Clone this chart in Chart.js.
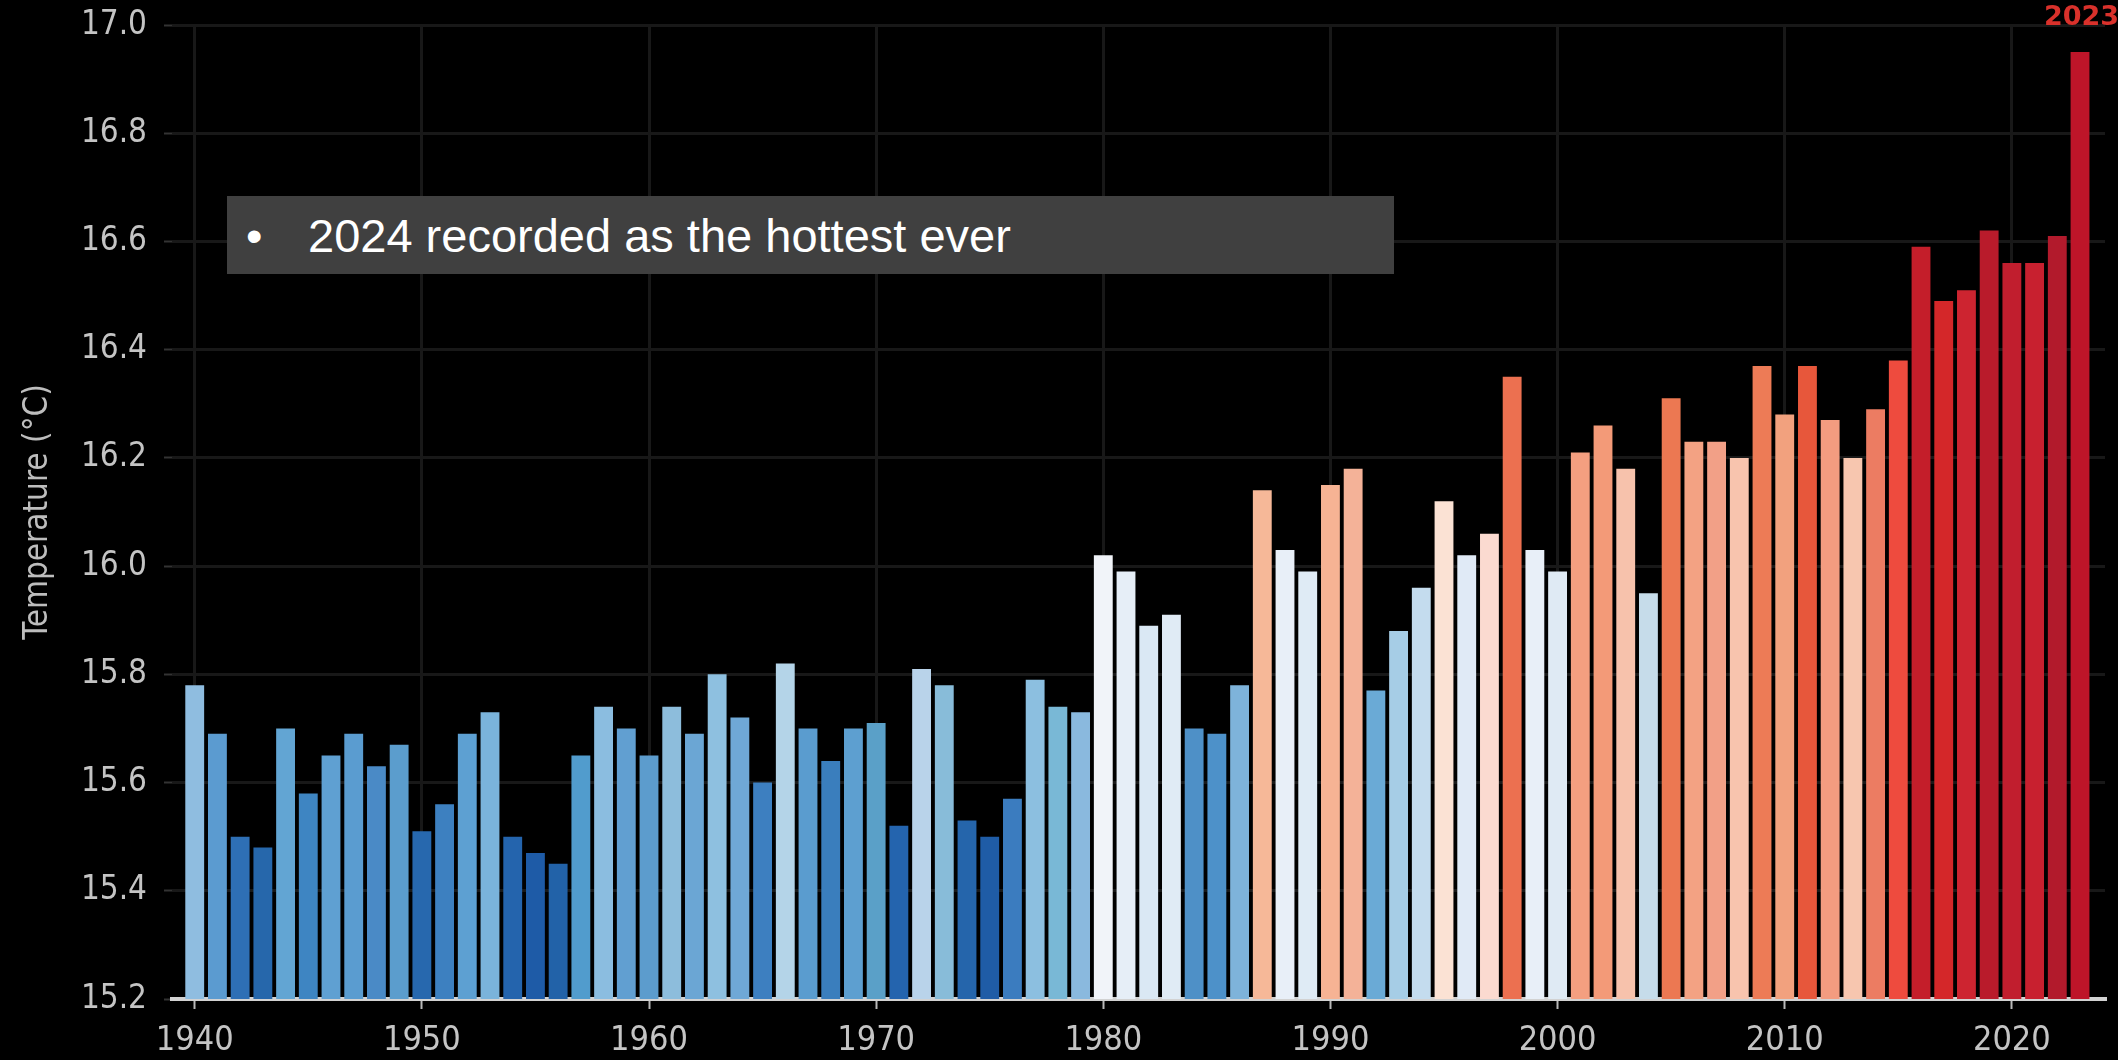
<!DOCTYPE html>
<html>
<head>
<meta charset="utf-8">
<script src="https://cdn.jsdelivr.net/npm/chart.js@4.4.1/dist/chart.umd.min.js"></script>
<style>
  html, body { margin: 0; padding: 0; background: #000; }
  #wrap { position: relative; width: 2118px; height: 1060px; overflow: hidden; background: #000; }
  #c { position: absolute; left: 0; top: 0; }
  #note { position: absolute; left: 227px; top: 196px; width: 1167px; height: 78px; background: #404040;
          font-family: "Liberation Sans", Arial, sans-serif; font-size: 47px; color: #ffffff; }
  #note .b { position: absolute; left: 19px; top: 12px; }
  #note .t { position: absolute; left: 81px; top: 12px; white-space: nowrap; }
</style>
</head>
<body>
<div id="wrap">
  <canvas id="c" width="2118" height="1060"></canvas>
  <div id="note"><span class="b">•</span><span class="t">2024 recorded as the hottest ever</span></div>
</div>
<script>
const years = [];
for (let y = 1940; y <= 2023; y++) years.push(y);

const temps = [
  15.78, 15.69, 15.50, 15.48, 15.70, 15.58, 15.65, 15.69, 15.63, 15.67,
  15.51, 15.56, 15.69, 15.73, 15.50, 15.47, 15.45, 15.65, 15.74, 15.70,
  15.65, 15.74, 15.69, 15.80, 15.72, 15.60, 15.82, 15.70, 15.64, 15.70,
  15.71, 15.52, 15.81, 15.78, 15.53, 15.50, 15.57, 15.79, 15.74, 15.73,
  16.02, 15.99, 15.89, 15.91, 15.70, 15.69, 15.78, 16.14, 16.03, 15.99,
  16.15, 16.18, 15.77, 15.88, 15.96, 16.12, 16.02, 16.06, 16.35, 16.03,
  15.99, 16.21, 16.26, 16.18, 15.95, 16.31, 16.23, 16.23, 16.20, 16.37,
  16.28, 16.37, 16.27, 16.20, 16.29, 16.38, 16.59, 16.49, 16.51, 16.62,
  16.56, 16.56, 16.61, 16.95
];

const barColors = [
  '#8fbde0', '#5b9bd0', '#2e6fb5', '#2667ab', '#62a5d3', '#3e85c2', '#5fa0d2', '#5a9cd0', '#4a8ac6', '#5b9dcd',
  '#2768ae', '#3d80c0', '#5da0d2', '#7ab3db', '#2464ad', '#1e5ba7', '#2262a8', '#519ccd', '#8bbde0', '#619fd1',
  '#5c9ccd', '#8dbddc', '#6ba6d4', '#8ec0e0', '#6fa8d6', '#3d7fc0', '#b4d4e8', '#5a9ccf', '#3a7ebd', '#5d9fd0',
  '#5aa0c8', '#2464ae', '#b9d3ea', '#88bcd9', '#2565ab', '#1f5ca6', '#3b7cbf', '#8cbfe0', '#79b8d6', '#8ab9de',
  '#f1f4f9', '#e6eef7', '#dae8f4', '#e0ebf5', '#4e90c7', '#4d91c9', '#7eb3da', '#f6b898', '#e8eff8', '#dfebf5',
  '#f6b394', '#f4b298', '#6aaad6', '#a6cde6', '#c4dcee', '#fbe2d4', '#e0eaf6', '#fbdad0', '#ec7050', '#e8eff8',
  '#dfeaf4', '#f49f80', '#f39a78', '#f7c2ac', '#c6dcea', '#ec7852', '#f3a283', '#f2a087', '#f8c4ae', '#ed7b56',
  '#f2a17e', '#e7573b', '#f39c80', '#f7c6af', '#ec7c62', '#ee4b3e', '#c41e2a', '#d42729', '#cd2430', '#b91b2b',
  '#c11e2e', '#c8202f', '#b21a2c', '#be1529'
];

const yTicks = [15.2, 15.4, 15.6, 15.8, 16.0, 16.2, 16.4, 16.6, 16.8, 17.0];
const xTicks = [1940, 1950, 1960, 1970, 1980, 1990, 2000, 2010, 2020];
const highlightYear = 2023;

// pick a condensed face if one is installed, else plain DejaVu Sans
function pickFont(cands) {
  const cv = document.createElement('canvas').getContext('2d');
  cv.font = '40px monospace';
  const base = cv.measureText('16.8 1940 Temperature').width;
  for (const f of cands) {
    cv.font = '40px "' + f + '", monospace';
    if (Math.abs(cv.measureText('16.8 1940 Temperature').width - base) > 0.5) return f;
  }
  return 'DejaVu Sans';
}
const condensed = pickFont(['DejaVu Sans Condensed', 'Liberation Sans Narrow']);
const isCond = condensed !== 'DejaVu Sans';
const tickFamily = '"' + condensed + '", "DejaVu Sans", sans-serif';
const ySize = isCond ? 33 : 29;
const xSize = isCond ? 34 : 30;

const labelPlugin = {
  id: 'yearLabel',
  afterDatasetsDraw(chart) {
    const ctx = chart.ctx;
    const xs = chart.scales.x;
    const px = xs.getPixelForValue(highlightYear);
    ctx.save();
    ctx.font = 'bold 27px "DejaVu Sans", sans-serif';
    ctx.fillStyle = '#d9312b';
    ctx.textAlign = 'left';
    ctx.textBaseline = 'middle';
    ctx.fillText(String(highlightYear), px - 36, 18);
    ctx.restore();
  }
};

new Chart(document.getElementById('c'), {
  type: 'bar',
  data: {
    datasets: [{
      data: years.map((y, i) => ({ x: y, y: temps[i] })),
      backgroundColor: barColors,
      borderWidth: 0,
      barPercentage: 0.83,
      categoryPercentage: 1.0
    }]
  },
  options: {
    responsive: false,
    animation: false,
    devicePixelRatio: 1,
    layout: { padding: { top: 25, right: 13, bottom: 0, left: 0 } },
    plugins: { legend: { display: false }, tooltip: { enabled: false } },
    scales: {
      x: {
        type: 'linear',
        offset: false,
        min: 1939.0,
        max: 2024.1,
        afterBuildTicks(scale) { scale.ticks = xTicks.map(v => ({ value: v })); },
        afterFit(scale) { scale.height = 61; scale.paddingLeft = 0; scale.paddingRight = 0; },
        ticks: {
          color: '#c4c4c4',
          font: { family: tickFamily, size: xSize },
          padding: 12,
          maxRotation: 0,
          autoSkip: false,
          callback: (v) => String(v)
        },
        grid: { offset: false, color: '#181818', lineWidth: 3, tickColor: '#b8b8b8', tickLength: 10, tickWidth: 2 },
        border: { display: true, color: '#d2d2d2', width: 4 }
      },
      y: {
        min: 15.2,
        max: 17.0,
        afterBuildTicks(scale) { scale.ticks = yTicks.map(v => ({ value: v })); },
        afterFit(scale) { scale.width = 172; scale.paddingTop = 0; scale.paddingBottom = 0; },
        ticks: {
          color: '#c4c4c4',
          font: { family: tickFamily, size: ySize },
          padding: 17,
          callback: (v) => Number(v).toFixed(1)
        },
        grid: { color: '#181818', lineWidth: 3, tickColor: '#333333', tickLength: 8, tickWidth: 2 },
        border: { display: false },
        title: {
          display: true,
          text: 'Temperature (°C)',
          color: '#bdbdbd',
          font: { family: tickFamily, size: isCond ? 33 : 30 },
          padding: { top: 19, bottom: 0 }
        }
      }
    }
  },
  plugins: [labelPlugin]
});
</script>
</body>
</html>
